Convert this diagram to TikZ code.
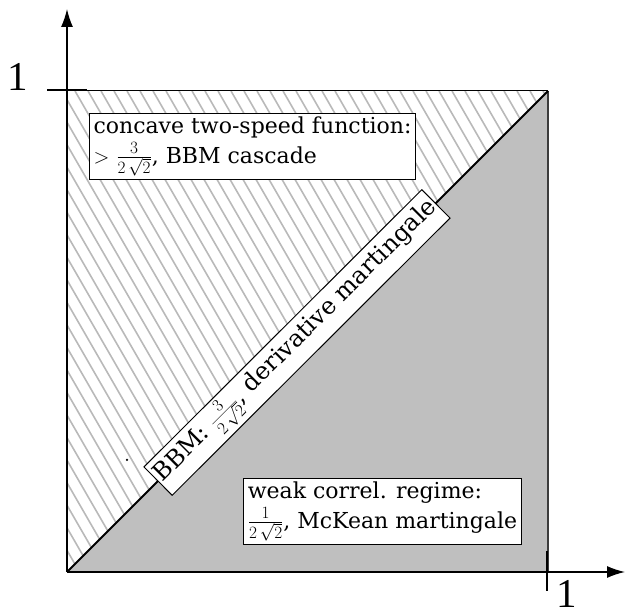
\documentclass[tikz,border=0pt]{standalone}
\usepackage{fontspec}
\setmainfont{DejaVu Serif}
\newfontfamily\labelfont{Liberation Serif}
\usetikzlibrary{arrows.meta}
\definecolor{regiongray}{RGB}{191,191,191}
\definecolor{hatchgray}{RGB}{185,185,185}
\definecolor{edgegray}{RGB}{60,60,60}
\newcommand{\bigfrac}[2]{{\fontsize{27}{31}\selectfont$\frac{#1}{#2}$}}
\begin{document}
\begin{tikzpicture}[x=1pt,y=1pt,
  lbl/.style={draw=black, line width=1pt, fill=white, align=left,
    font=\fontsize{22}{30}\selectfont, inner xsep=4pt, inner ysep=3pt},
  axisline/.style={line width=1.4pt, -{Latex[length=18pt,width=12pt]}},
  tickline/.style={line width=1.4pt},
  hatchline/.style={draw=hatchgray, line width=1.6pt},
  biglabel/.style={font=\labelfont\fontsize{41}{43}\selectfont, inner sep=0pt}]
\useasboundingbox (0,0) rectangle (625,610);
\coordinate (O) at (67,38);
\coordinate (TL) at (67,519);
\coordinate (TR) at (548,519);
\coordinate (BR) at (548,38);
\coordinate (Ytip) at (67,601);
\coordinate (Xtip) at (625,38);
\coordinate (yt1) at (47,520);
\coordinate (yt2) at (87,520);
\coordinate (xt1) at (547,59);
\coordinate (xt2) at (547,19);
% lower right region
\fill[regiongray] (O) -- (TR) -- (BR) -- cycle;
% hatched upper left region
\begin{scope}
  \clip (O) -- (TL) -- (TR) -- cycle;
  \foreach \x in {-250,-237,...,560} {
    \draw[hatchline] (\x,519) -- ++(300,-520);
  }
\end{scope}
\draw[line width=1pt] (TL) -- (TR);
\draw[line width=2pt, edgegray] (TR) -- (BR);
\draw[line width=2pt] (O) -- (TR);
% axes
\draw[axisline] (O) -- (Ytip);
\draw[axisline] (O) -- (Xtip);
\draw[tickline] (yt1) -- (yt2);
\draw[tickline] (xt1) -- (xt2);
\node[biglabel] (ylab) at (18,533) {1};
\node[biglabel] (xlabel) at (567,16) {1};
% labels
\node[lbl] (conc) at (252.5,463.5)
  {concave two-speed function:\\ $>$ \bigfrac{3}{2\,\sqrt{2}}, BBM cascade};
\node[lbl] (weak) at (382.5,98.5)
  {weak correl. regime:\\ \bigfrac{1}{2\,\sqrt{2}}, McKean martingale};
\node[lbl, font=\fontsize{24}{30}\selectfont, inner xsep=2pt, rotate=44.94,
      minimum width=372pt, minimum height=40pt] (bbm) at (297,267.5)
  {BBM: \bigfrac{3}{2\,\sqrt{2}}, derivative martingale};
\node[circle, fill=black, inner sep=0pt, minimum size=2.5pt] (dot) at (127,150) {};
\end{tikzpicture}
\end{document}
